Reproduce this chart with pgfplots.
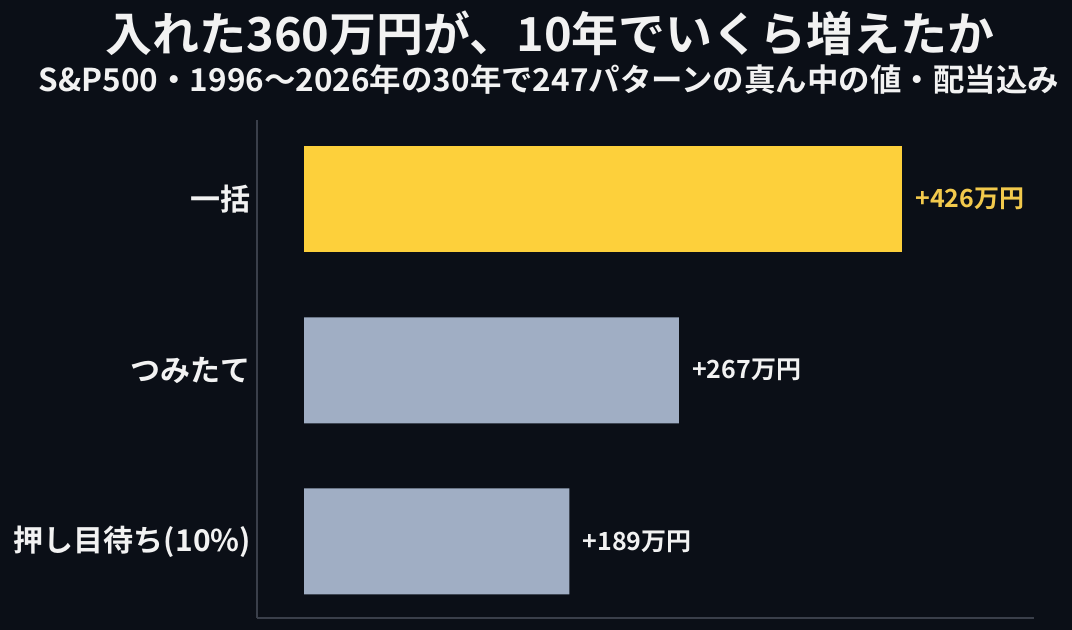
\documentclass[border=0pt]{standalone}
\usepackage{pgfplots}
\pgfplotsset{compat=1.18}
\usepackage{fontspec}
\setmainfont{Noto Sans CJK JP}[BoldFont={Noto Sans CJK JP Bold}]
\definecolor{bg}{HTML}{0B0F17}
\definecolor{gold}{HTML}{FDD03B}
\definecolor{goldtxt}{HTML}{F2C94C}
\definecolor{slate}{HTML}{A0AEC4}
\definecolor{axline}{HTML}{3A3F4A}
\definecolor{txt}{HTML}{F2F2F2}
\begin{document}
\begin{tikzpicture}[x=0.75pt,y=0.75pt]
\fill[bg] (0,0) rectangle (1072,630);
\node[text=txt,font=\bfseries\fontsize{35.2}{40}\selectfont] at (550,597) {入れた360万円が、10年でいくら増えたか};
\node[text=txt,font=\bfseries\fontsize{23.6}{28}\selectfont] at (549,550) {S\&P500・1996～2026年の30年で247パターンの真ん中の値・配当込み};
\begin{axis}[
  at={(192.75pt,9pt)}, anchor=south west,
  scale only axis, width=582.75pt, height=373.5pt,
  xbar, bar width=79.5pt, bar shift=0pt,
  xmin=-33.5, xmax=520, ymin=-0.447, ymax=2.462,
  axis x line*=bottom, axis y line*=left,
  axis line style={axline, line width=0.8pt, -},
  xtick=\empty,
  ytick={0,1,2}, yticklabels={押し目待ち(10\%),つみたて,一括},
  major tick length=0pt,
  yticklabel style={text=txt, font=\bfseries\fontsize{22.5}{26}\selectfont, anchor=east, xshift=-1pt},
  /pgf/number format/assume math mode=true,
  nodes near coords,
  point meta=x,
  nodes near coords align={horizontal},
  every node near coord/.append style={anchor=west, inner sep=0pt, xshift=9.75pt, font=\bfseries\fontsize{18.75}{22}\selectfont},
  nodes near coords={+\pgfmathprintnumber{\pgfplotspointmeta}万円},
]
\addplot[fill=gold, draw=none, every node near coord/.append style={text=goldtxt}] coordinates {(426,2)};
\addplot[fill=slate, draw=none, every node near coord/.append style={text=txt}] coordinates {(267,1) (189,0)};
\end{axis}
\end{tikzpicture}
\end{document}
